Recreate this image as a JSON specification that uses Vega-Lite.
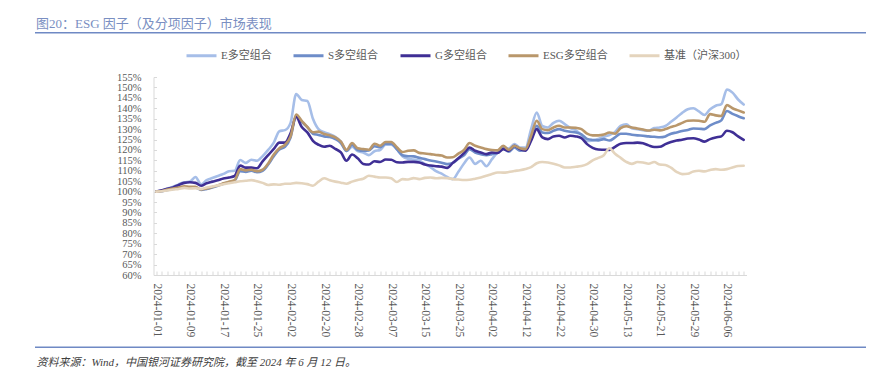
{
 "$schema": "https://vega.github.io/schema/vega-lite/v6.json",
 "width": 593,
 "height": 198,
 "autosize": {"type": "none"},
 "padding": {"left": 153.5, "top": 77, "right": 141.5, "bottom": 103},
 "background": "white",
 "config": {"view": {"stroke": null}, "font": "Liberation Serif, Noto Sans CJK SC"},
 "title": {"text": "图20：ESG 因子（及分项因子）市场表现", "anchor": "start", "frame": "group", "dx": -117.5, "offset": 1, "fontSize": 13, "fontWeight": "normal", "color": "#7a8fc2", "font": "Liberation Serif, Noto Sans CJK SC"},
 "datasets": {
  "t": [
   {"d":"2024-01-01","E多空组合":100,"S多空组合":100,"G多空组合":100,"ESG多空组合":100,"基准（沪深300）":100},
   {"d":"2024-01-02","E多空组合":100.5,"S多空组合":100.2,"G多空组合":100.6,"ESG多空组合":100.3,"基准（沪深300）":100.2},
   {"d":"2024-01-03","E多空组合":101.5,"S多空组合":100.8,"G多空组合":101.4,"ESG多空组合":101.0,"基准（沪深300）":100.5},
   {"d":"2024-01-04","E多空组合":102.3,"S多空组合":101.3,"G多空组合":102.0,"ESG多空组合":101.5,"基准（沪深300）":101.0},
   {"d":"2024-01-05","E多空组合":103.5,"S多空组合":101.8,"G多空组合":103.2,"ESG多空组合":102.0,"基准（沪深300）":101.3},
   {"d":"2024-01-08","E多空组合":104.5,"S多空组合":102.2,"G多空组合":104.2,"ESG多空组合":102.5,"基准（沪深300）":101.8},
   {"d":"2024-01-09","E多空组合":104.8,"S多空组合":102.0,"G多空组合":104.5,"ESG多空组合":102.3,"基准（沪深300）":101.5},
   {"d":"2024-01-10","E多空组合":107.0,"S多空组合":102.0,"G多空组合":104.2,"ESG多空组合":102.3,"基准（沪深300）":101.6},
   {"d":"2024-01-11","E多空组合":103.5,"S多空组合":100.8,"G多空组合":102.8,"ESG多空组合":101.0,"基准（沪深300）":101.3},
   {"d":"2024-01-12","E多空组合":105.5,"S多空组合":101.3,"G多空组合":104.0,"ESG多空组合":101.5,"基准（沪深300）":102.0},
   {"d":"2024-01-15","E多空组合":106.5,"S多空组合":102.0,"G多空组合":104.8,"ESG多空组合":102.2,"基准（沪深300）":102.5},
   {"d":"2024-01-16","E多空组合":107.5,"S多空组合":102.8,"G多空组合":105.5,"ESG多空组合":103.0,"基准（沪深300）":103.0},
   {"d":"2024-01-17","E多空组合":108.5,"S多空组合":103.8,"G多空组合":106.3,"ESG多空组合":104.0,"基准（沪深300）":103.5},
   {"d":"2024-01-18","E多空组合":109.8,"S多空组合":104.5,"G多空组合":106.8,"ESG多空组合":104.8,"基准（沪深300）":104.0},
   {"d":"2024-01-19","E多空组合":110.0,"S多空组合":105.3,"G多空组合":107.5,"ESG多空组合":105.5,"基准（沪深300）":104.5},
   {"d":"2024-01-22","E多空组合":115.2,"S多空组合":109.8,"G多空组合":112.5,"ESG多空组合":110.8,"基准（沪深300）":105.0},
   {"d":"2024-01-23","E多空组合":113.8,"S多空组合":109.5,"G多空组合":111.5,"ESG多空组合":110.2,"基准（沪深300）":105.2},
   {"d":"2024-01-24","E多空组合":115.3,"S多空组合":110.0,"G多空组合":111.5,"ESG多空组合":110.5,"基准（沪深300）":105.5},
   {"d":"2024-01-25","E多空组合":114.8,"S多空组合":109.3,"G多空组合":111.2,"ESG多空组合":109.8,"基准（沪深300）":105.0},
   {"d":"2024-01-26","E多空组合":117.0,"S多空组合":110.0,"G多空组合":114.5,"ESG多空组合":110.5,"基准（沪深300）":104.2},
   {"d":"2024-01-29","E多空组合":120.0,"S多空组合":113.0,"G多空组合":117.5,"ESG多空组合":113.5,"基准（沪深300）":103.2},
   {"d":"2024-01-30","E多空组合":123.5,"S多空组合":117.0,"G多空组合":120.5,"ESG多空组合":117.8,"基准（沪深300）":103.5},
   {"d":"2024-01-31","E多空组合":129.0,"S多空组合":120.2,"G多空组合":123.5,"ESG多空组合":120.8,"基准（沪深300）":103.3},
   {"d":"2024-02-01","E多空组合":129.5,"S多空组合":121.5,"G多空组合":123.5,"ESG多空组合":122.5,"基准（沪深300）":103.8},
   {"d":"2024-02-02","E多空组合":133.0,"S多空组合":126.0,"G多空组合":128.0,"ESG多空组合":126.5,"基准（沪深300）":103.8},
   {"d":"2024-02-05","E多空组合":146.8,"S多空组合":136.4,"G多空组合":135.8,"ESG多空组合":137.0,"基准（沪深300）":104.2},
   {"d":"2024-02-06","E多空组合":144.0,"S多空组合":133.5,"G多空组合":131.0,"ESG多空组合":134.0,"基准（沪深300）":104.0},
   {"d":"2024-02-07","E多空组合":143.5,"S多空组合":131.0,"G多空组合":128.4,"ESG多空组合":131.0,"基准（沪深300）":103.6},
   {"d":"2024-02-08","E多空组合":135.0,"S多空组合":127.8,"G多空组合":124.4,"ESG多空组合":128.5,"基准（沪深300）":102.8},
   {"d":"2024-02-19","E多空组合":130.0,"S多空组合":127.2,"G多空组合":122.5,"ESG多空组合":128.8,"基准（沪深300）":104.8},
   {"d":"2024-02-20","E多空组合":128.5,"S多空组合":126.5,"G多空组合":121.5,"ESG多空组合":127.6,"基准（沪深300）":106.4},
   {"d":"2024-02-21","E多空组合":127.6,"S多空组合":126.2,"G多空组合":122.0,"ESG多空组合":127.0,"基准（沪深300）":105.5},
   {"d":"2024-02-22","E多空组合":126.3,"S多空组合":125.2,"G多空组合":120.5,"ESG多空组合":126.0,"基准（沪深300）":104.8},
   {"d":"2024-02-23","E多空组合":124.0,"S多空组合":123.3,"G多空组合":118.8,"ESG多空组合":124.0,"基准（沪深300）":104.3},
   {"d":"2024-02-26","E多空组合":119.5,"S多空组合":119.5,"G多空组合":114.8,"ESG多空组合":120.0,"基准（沪深300）":103.8},
   {"d":"2024-02-27","E多空组合":121.5,"S多空组合":122.5,"G多空组合":117.8,"ESG多空组合":123.3,"基准（沪深300）":104.8},
   {"d":"2024-02-28","E多空组合":119.5,"S多空组合":120.0,"G多空组合":116.0,"ESG多空组合":120.8,"基准（沪深300）":105.6},
   {"d":"2024-02-29","E多空组合":118.8,"S多空组合":119.6,"G多空组合":113.3,"ESG多空组合":120.4,"基准（沪深300）":106.2},
   {"d":"2024-03-01","E多空组合":117.5,"S多空组合":119.8,"G多空组合":113.0,"ESG多空组合":120.1,"基准（沪深300）":107.6},
   {"d":"2024-03-04","E多空组合":119.4,"S多空组合":121.8,"G多空组合":114.6,"ESG多空组合":123.0,"基准（沪深300）":107.2},
   {"d":"2024-03-05","E多空组合":120.0,"S多空组合":121.3,"G多空组合":114.2,"ESG多空组合":122.0,"基准（沪深300）":106.8},
   {"d":"2024-03-06","E多空组合":122.5,"S多空组合":123.0,"G多空组合":115.4,"ESG多空组合":123.8,"基准（沪深300）":106.8},
   {"d":"2024-03-07","E多空组合":122.5,"S多空组合":123.0,"G多空组合":115.3,"ESG多空组合":123.8,"基准（沪深300）":106.4},
   {"d":"2024-03-08","E多空组合":120.5,"S多空组合":120.3,"G多空组合":114.1,"ESG多空组合":121.3,"基准（沪深300）":104.6},
   {"d":"2024-03-11","E多空组合":117.0,"S多空组合":117.5,"G多空组合":114.0,"ESG多空组合":119.0,"基准（沪深300）":106.0},
   {"d":"2024-03-12","E多空组合":115.8,"S多空组合":117.0,"G多空组合":114.3,"ESG多空组合":119.6,"基准（沪深300）":105.8},
   {"d":"2024-03-13","E多空组合":115.4,"S多空组合":116.9,"G多空组合":114.3,"ESG多空组合":119.8,"基准（沪深300）":106.5},
   {"d":"2024-03-14","E多空组合":114.8,"S多空组合":116.2,"G多空组合":114.0,"ESG多空组合":118.6,"基准（沪深300）":106.0},
   {"d":"2024-03-15","E多空组合":113.3,"S多空组合":115.6,"G多空组合":113.0,"ESG多空组合":118.3,"基准（沪深300）":106.6},
   {"d":"2024-03-18","E多空组合":111.8,"S多空组合":114.9,"G多空组合":112.5,"ESG多空组合":118.0,"基准（沪深300）":106.8},
   {"d":"2024-03-19","E多空组合":109.8,"S多空组合":114.5,"G多空组合":112.2,"ESG多空组合":117.6,"基准（沪深300）":106.4},
   {"d":"2024-03-20","E多空组合":108.6,"S多空组合":113.9,"G多空组合":112.0,"ESG多空组合":117.3,"基准（沪深300）":106.6},
   {"d":"2024-03-21","E多空组合":107.0,"S多空组合":113.2,"G多空组合":111.4,"ESG多空组合":116.4,"基准（沪深300）":106.5},
   {"d":"2024-03-22","E多空组合":106.0,"S多空组合":113.8,"G多空组合":113.8,"ESG多空组合":116.5,"基准（沪深300）":106.0},
   {"d":"2024-03-25","E多空组合":109.5,"S多空组合":115.8,"G多空组合":116.0,"ESG多空组合":118.2,"基准（沪深300）":105.8},
   {"d":"2024-03-26","E多空组合":113.5,"S多空组合":117.5,"G多空组合":118.5,"ESG多空组合":120.0,"基准（沪深300）":105.6},
   {"d":"2024-03-27","E多空组合":116.4,"S多空组合":120.4,"G多空组合":121.2,"ESG多空组合":123.3,"基准（沪深300）":105.7},
   {"d":"2024-03-28","E多空组合":113.3,"S多空组合":118.8,"G多空组合":119.6,"ESG多空组合":122.0,"基准（沪深300）":106.2},
   {"d":"2024-03-29","E多空组合":114.8,"S多空组合":118.0,"G多空组合":118.8,"ESG多空组合":121.2,"基准（沪深300）":106.8},
   {"d":"2024-04-01","E多空组合":112.2,"S多空组合":117.5,"G多空组合":118.0,"ESG多空组合":120.4,"基准（沪深300）":107.6},
   {"d":"2024-04-02","E多空组合":115.6,"S多空组合":118.0,"G多空组合":118.8,"ESG多空组合":120.0,"基准（沪深300）":108.5},
   {"d":"2024-04-03","E多空组合":118.8,"S多空组合":118.6,"G多空组合":118.5,"ESG多空组合":119.8,"基准（沪深300）":109.2},
   {"d":"2024-04-08","E多空组合":121.2,"S多空组合":120.8,"G多空组合":120.4,"ESG多空组合":122.0,"基准（沪深300）":109.1},
   {"d":"2024-04-09","E多空组合":120.7,"S多空组合":119.2,"G多空组合":119.6,"ESG多空组合":120.1,"基准（沪深300）":109.4},
   {"d":"2024-04-10","E多空组合":122.8,"S多空组合":121.2,"G多空组合":122.0,"ESG多空组合":122.0,"基准（沪深300）":109.9},
   {"d":"2024-04-11","E多空组合":121.2,"S多空组合":119.6,"G多空组合":120.4,"ESG多空组合":120.8,"基准（沪深300）":110.3},
   {"d":"2024-04-12","E多空组合":121.2,"S多空组合":120.1,"G多空组合":119.6,"ESG多空组合":120.4,"基准（沪深300）":110.9},
   {"d":"2024-04-15","E多空组合":130.0,"S多空组合":125.2,"G多空组合":124.4,"ESG多空组合":126.8,"基准（沪深300）":111.8},
   {"d":"2024-04-16","E多空组合":138.0,"S多空组合":131.6,"G多空组合":130.0,"ESG多空组合":134.0,"基准（沪深300）":113.6},
   {"d":"2024-04-17","E多空组合":131.5,"S多空组合":128.4,"G多空组合":126.0,"ESG多空组合":130.0,"基准（沪深300）":114.2},
   {"d":"2024-04-18","E多空组合":130.8,"S多空组合":128.1,"G多空组合":125.2,"ESG多空组合":129.5,"基准（沪深300）":114.0},
   {"d":"2024-04-19","E多空组合":133.0,"S多空组合":129.2,"G多空组合":126.5,"ESG多空组合":130.8,"基准（沪深300）":113.4},
   {"d":"2024-04-22","E多空组合":134.0,"S多空组合":130.0,"G多空组合":126.8,"ESG多空组合":131.6,"基准（沪深300）":112.6},
   {"d":"2024-04-23","E多空组合":132.4,"S多空组合":129.2,"G多空组合":126.0,"ESG多空组合":130.8,"基准（沪深300）":111.6},
   {"d":"2024-04-24","E多空组合":130.5,"S多空组合":128.7,"G多空组合":126.8,"ESG多空组合":130.8,"基准（沪深300）":111.6},
   {"d":"2024-04-25","E多空组合":129.4,"S多空组合":128.4,"G多空组合":126.5,"ESG多空组合":130.6,"基准（沪深300）":111.9},
   {"d":"2024-04-26","E多空组合":127.2,"S多空组合":127.5,"G多空组合":125.6,"ESG多空组合":130.0,"基准（沪深300）":112.3},
   {"d":"2024-04-29","E多空组合":124.3,"S多空组合":125.3,"G多空组合":122.8,"ESG多空组合":127.8,"基准（沪深300）":113.2},
   {"d":"2024-04-30","E多空组合":124.6,"S多空组合":124.8,"G多空组合":121.0,"ESG多空组合":127.0,"基准（沪深300）":115.0},
   {"d":"2024-05-06","E多空组合":125.3,"S多空组合":124.6,"G多空组合":120.2,"ESG多空组合":127.0,"基准（沪深300）":116.2},
   {"d":"2024-05-07","E多空组合":126.3,"S多空组合":125.2,"G多空组合":120.1,"ESG多空组合":127.4,"基准（沪深300）":117.5},
   {"d":"2024-05-08","E多空组合":127.2,"S多空组合":124.5,"G多空组合":120.0,"ESG多空组合":128.4,"基准（沪深300）":120.8},
   {"d":"2024-05-09","E多空组合":128.6,"S多空组合":126.0,"G多空组合":121.5,"ESG多空组合":127.8,"基准（沪深300）":118.2},
   {"d":"2024-05-10","E多空组合":131.5,"S多空组合":127.8,"G多空组合":123.0,"ESG多空组合":130.5,"基准（沪深300）":116.2},
   {"d":"2024-05-13","E多空组合":132.3,"S多空组合":127.8,"G多空组合":123.3,"ESG多空组合":131.4,"基准（沪深300）":114.3},
   {"d":"2024-05-14","E多空组合":130.4,"S多空组合":127.3,"G多空组合":123.3,"ESG多空组合":130.8,"基准（沪深300）":113.3},
   {"d":"2024-05-15","E多空组合":129.9,"S多空组合":127.0,"G多空组合":123.5,"ESG多空组合":130.3,"基准（沪深300）":114.2},
   {"d":"2024-05-16","E多空组合":129.5,"S多空组合":126.8,"G多空组合":123.2,"ESG多空组合":129.8,"基准（沪深300）":114.0},
   {"d":"2024-05-17","E多空组合":129.2,"S多空组合":126.5,"G多空组合":122.2,"ESG多空组合":129.3,"基准（沪深300）":113.4},
   {"d":"2024-05-20","E多空组合":130.5,"S多空组合":126.3,"G多空组合":121.4,"ESG多空组合":129.7,"基准（沪深300）":114.2},
   {"d":"2024-05-21","E多空组合":130.8,"S多空组合":126.1,"G多空组合":121.5,"ESG多空组合":129.4,"基准（沪深300）":113.0},
   {"d":"2024-05-22","E多空组合":131.5,"S多空组合":126.5,"G多空组合":122.8,"ESG多空组合":130.0,"基准（沪深300）":112.8},
   {"d":"2024-05-23","E多空组合":133.5,"S多空组合":127.8,"G多空组合":123.8,"ESG多空组合":131.0,"基准（沪深300）":111.5},
   {"d":"2024-05-24","E多空组合":135.6,"S多空组合":128.4,"G多空组合":124.5,"ESG多空组合":131.8,"基准（沪深300）":109.5},
   {"d":"2024-05-27","E多空组合":137.8,"S多空组合":129.1,"G多空组合":124.9,"ESG多空组合":133.0,"基准（沪深300）":108.4},
   {"d":"2024-05-28","E多空组合":139.5,"S多空组合":129.6,"G多空组合":125.5,"ESG多空组合":134.0,"基准（沪深300）":108.6},
   {"d":"2024-05-29","E多空组合":140.0,"S多空组合":130.3,"G多空组合":125.6,"ESG多空组合":134.1,"基准（沪深300）":109.7},
   {"d":"2024-05-30","E多空组合":138.5,"S多空组合":130.2,"G多空组合":125.0,"ESG多空组合":134.0,"基准（沪深300）":110.0},
   {"d":"2024-05-31","E多空组合":136.8,"S多空组合":130.0,"G多空组合":124.0,"ESG多空组合":133.5,"基准（沪深300）":109.7},
   {"d":"2024-06-03","E多空组合":139.5,"S多空组合":131.8,"G多空组合":125.2,"ESG多空组合":137.2,"基准（沪深300）":110.4},
   {"d":"2024-06-04","E多空组合":141.2,"S多空组合":133.0,"G多空组合":126.0,"ESG多空组合":136.6,"基准（沪深300）":110.8},
   {"d":"2024-06-05","E多空组合":142.0,"S多空组合":134.2,"G多空组合":126.5,"ESG多空组合":136.3,"基准（沪深300）":110.5},
   {"d":"2024-06-06","E多空组合":149.0,"S多空组合":138.7,"G多空组合":129.2,"ESG多空组合":141.6,"基准（沪深300）":110.8},
   {"d":"2024-06-07","E多空组合":147.5,"S多空组合":137.3,"G多空组合":128.5,"ESG多空组合":140.0,"基准（沪深300）":111.6},
   {"d":"2024-06-11","E多空组合":144.2,"S多空组合":136.2,"G多空组合":126.5,"ESG多空组合":139.0,"基准（沪深300）":112.3},
   {"d":"2024-06-12","E多空组合":141.8,"S多空组合":135.2,"G多空组合":124.8,"ESG多空组合":138.0,"基准（沪深300）":112.4}
  ]
 },
 "layer": [
  {
   "data": {"name": "t"},
   "transform": [{"fold": ["E多空组合", "S多空组合", "G多空组合", "ESG多空组合", "基准（沪深300）"], "as": ["series", "value"]}],
   "mark": {"type": "line", "strokeWidth": 2.6, "interpolate": "monotone", "strokeCap": "round", "strokeJoin": "round"},
   "encoding": {
    "x": {
     "field": "d", "type": "ordinal", "sort": null,
     "scale": {"type": "point", "padding": 0.5},
     "axis": {
      "title": "资料来源：Wind，中国银河证券研究院，截至 2024 年 6 月 12 日。",
      "titleX": -117.5, "titleY": 87, "titleAlign": "left", "titleAnchor": "start", "titleAngle": 0, "titleBaseline": "middle",
      "titleFontStyle": "italic", "titleFontWeight": "normal", "titleFontSize": 11, "titleColor": "#404040",
      "titleFont": "Liberation Serif, Noto Sans CJK SC",
      "labelAngle": 90, "labelOverlap": false, "labelFontSize": 11.5, "labelColor": "#595959", "labelPadding": 12,
      "labelFont": "Liberation Serif",
      "labelExpr": "indexof(['2024-01-01','2024-01-09','2024-01-17','2024-01-25','2024-02-02','2024-02-20','2024-02-28','2024-03-07','2024-03-15','2024-03-25','2024-04-02','2024-04-12','2024-04-22','2024-04-30','2024-05-13','2024-05-21','2024-05-29','2024-06-06'], datum.value) >= 0 ? datum.value : ''",
      "tickSize": -4, "tickColor": "#d9d9d9", "domainColor": "#d9d9d9", "grid": false
     }
    },
    "y": {
     "field": "value", "type": "quantitative",
     "scale": {"domain": [60, 155], "nice": false, "zero": false},
     "axis": {
      "title": null,
      "values": [60, 65, 70, 75, 80, 85, 90, 95, 100, 105, 110, 115, 120, 125, 130, 135, 140, 145, 150, 155],
      "labelExpr": "datum.value + '%'", "labelOverlap": false,
      "labelFontSize": 10.5, "labelColor": "#595959", "labelFont": "Liberation Serif", "labelPadding": 15.5,
      "tickSize": -3, "tickColor": "#d9d9d9", "domainColor": "#d9d9d9", "grid": false
     }
    },
    "color": {
     "field": "series", "type": "nominal",
     "scale": {"domain": ["E多空组合", "S多空组合", "G多空组合", "ESG多空组合", "基准（沪深300）"], "range": ["#a6bee8", "#6e8dc9", "#3f2f95", "#b9976b", "#e4d4bd"]},
     "legend": {
      "orient": "none", "legendX": 31.5, "legendY": -38, "direction": "horizontal", "columns": 5, "title": null,
      "symbolType": "stroke", "symbolSize": 900, "symbolStrokeWidth": 3, "labelFontSize": 11, "labelColor": "#595959",
      "labelFont": "Liberation Serif, Noto Sans CJK SC", "columnPadding": 15, "labelOffset": 3
     }
    }
   }
  },
  {
   "data": {"values": [{}]},
   "mark": {"type": "rule", "color": "#6f89c4", "strokeWidth": 1.5},
   "encoding": {"x": {"value": -118.5}, "x2": {"value": 712.5}, "y": {"value": -44.3}}
  },
  {
   "data": {"values": [{}]},
   "mark": {"type": "rule", "color": "#6f89c4", "strokeWidth": 1.5},
   "encoding": {"x": {"value": -118.5}, "x2": {"value": 712.5}, "y": {"value": 270.3}}
  }
 ]
}
